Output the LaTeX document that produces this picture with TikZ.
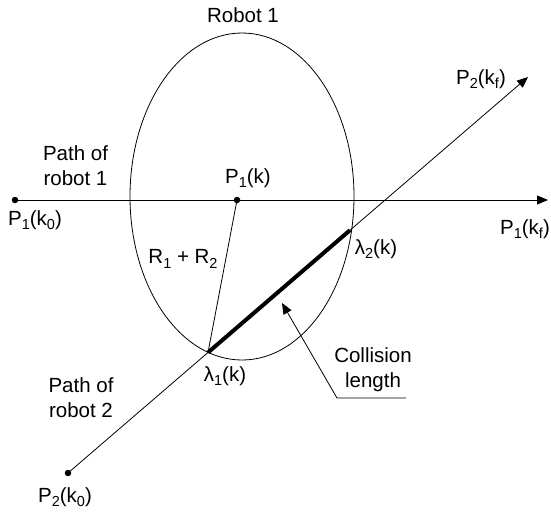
\documentclass[tikz,border=0pt]{standalone}
\usepackage{fontspec}
\setmainfont{Liberation Sans}
\usetikzlibrary{arrows.meta,shapes.geometric}
\newcommand{\sbs}[1]{\raisebox{-0.4ex}{\fontsize{14.5}{15}\selectfont #1}}
\begin{document}
\begin{tikzpicture}[x=1pt,y=-1pt,
  font=\fontsize{20.5}{25}\selectfont,
  line width=0.8pt,
  tip/.style={-{Triangle[length=11pt,width=9pt]}},
  lbl/.style={inner sep=0pt, align=center},
  dotn/.style={circle, fill, inner sep=0pt, minimum size=6.5pt}]
\useasboundingbox (0,0) rectangle (551,512);
% robot 1 ellipse
\node[ellipse, draw, minimum width=224pt, minimum height=327pt, inner sep=0pt] (robot) at (242,196.5) {};
% points
\node[dotn] (p1k0) at (15,200) {};
\node[dotn] (p1k) at (237,200) {};
\node[dotn] (p2k0) at (68,473) {};
\coordinate (p1kf) at (548,200);
\coordinate (p2kf) at (528,77);
\coordinate (l1) at (208,352.5);
\coordinate (l2) at (350,230.2);
\coordinate (cltip) at (282,303);
\coordinate (clbend) at (337,398);
\coordinate (clend) at (406,398);
% connectors
\draw[tip] (p1k0.center) -- (p1kf);
\draw[tip] (p2k0.center) -- (p2kf);
\draw (p1k.center) -- (l1);
\draw[line width=4pt] (l1) -- (l2);
\draw[tip] (clend) -- (clbend) -- (cltip);
% labels
\node[lbl] (trobot) at (243,15) {Robot 1};
\node[lbl] (tpath1) at (75.5,165.5) {Path of\\robot 1};
\node[lbl] (tp1k0) at (35,220) {P\sbs{1}(k\sbs{0})};
\node[lbl] (tp1k) at (248,178) {P\sbs{1}(k)};
\node[lbl] (tr) at (183,259) {R\sbs{1} + R\sbs{2}};
\node[lbl] (tl2) at (376,249) {λ\sbs{2}(k)};
\node[lbl] (tl1) at (225,376) {λ\sbs{1}(k)};
\node[lbl] (tcl) at (373,369.5) {Collision\\length};
\node[lbl] (tpath2) at (81,397.5) {Path of\\robot 2};
\node[lbl] (tp2k0) at (65,497) {P\sbs{2}(k\sbs{0})};
\node[lbl] (tp2kf) at (481,79) {P\sbs{2}(k\sbs{f})};
\node[lbl] (tp1kf) at (525,229) {P\sbs{1}(k\sbs{f})};
\end{tikzpicture}
\end{document}
